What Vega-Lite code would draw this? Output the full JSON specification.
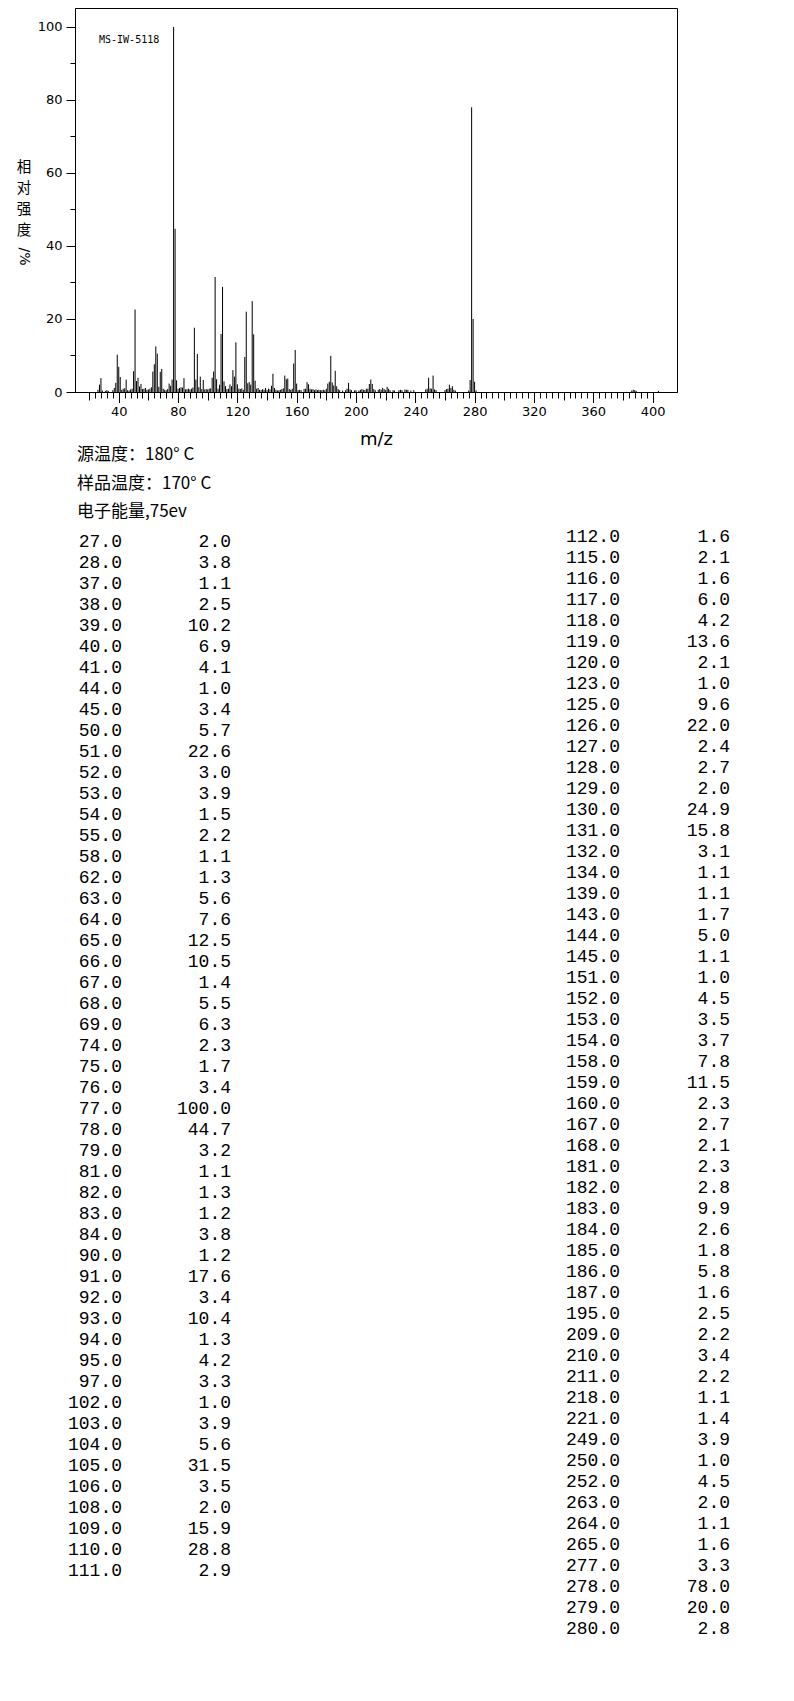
{
  "$schema": "https://vega.github.io/schema/vega-lite/v6.json",
  "padding": {"left": 15, "top": 7, "right": 5, "bottom": 5},
  "autosize": {"type": "pad"},
  "background": "white",
  "spacing": -3,
  "datasets": {
    "left": [
      {"mz": 27, "intensity": 2.0}, {"mz": 28, "intensity": 3.8}, {"mz": 37, "intensity": 1.1}, {"mz": 38, "intensity": 2.5},
      {"mz": 39, "intensity": 10.2}, {"mz": 40, "intensity": 6.9}, {"mz": 41, "intensity": 4.1}, {"mz": 44, "intensity": 1.0},
      {"mz": 45, "intensity": 3.4}, {"mz": 50, "intensity": 5.7}, {"mz": 51, "intensity": 22.6}, {"mz": 52, "intensity": 3.0},
      {"mz": 53, "intensity": 3.9}, {"mz": 54, "intensity": 1.5}, {"mz": 55, "intensity": 2.2}, {"mz": 58, "intensity": 1.1},
      {"mz": 62, "intensity": 1.3}, {"mz": 63, "intensity": 5.6}, {"mz": 64, "intensity": 7.6}, {"mz": 65, "intensity": 12.5},
      {"mz": 66, "intensity": 10.5}, {"mz": 67, "intensity": 1.4}, {"mz": 68, "intensity": 5.5}, {"mz": 69, "intensity": 6.3},
      {"mz": 74, "intensity": 2.3}, {"mz": 75, "intensity": 1.7}, {"mz": 76, "intensity": 3.4}, {"mz": 77, "intensity": 100.0},
      {"mz": 78, "intensity": 44.7}, {"mz": 79, "intensity": 3.2}, {"mz": 81, "intensity": 1.1}, {"mz": 82, "intensity": 1.3},
      {"mz": 83, "intensity": 1.2}, {"mz": 84, "intensity": 3.8}, {"mz": 90, "intensity": 1.2}, {"mz": 91, "intensity": 17.6},
      {"mz": 92, "intensity": 3.4}, {"mz": 93, "intensity": 10.4}, {"mz": 94, "intensity": 1.3}, {"mz": 95, "intensity": 4.2},
      {"mz": 97, "intensity": 3.3}, {"mz": 102, "intensity": 1.0}, {"mz": 103, "intensity": 3.9}, {"mz": 104, "intensity": 5.6},
      {"mz": 105, "intensity": 31.5}, {"mz": 106, "intensity": 3.5}, {"mz": 108, "intensity": 2.0}, {"mz": 109, "intensity": 15.9},
      {"mz": 110, "intensity": 28.8}, {"mz": 111, "intensity": 2.9}
    ],
    "right": [
      {"mz": 112, "intensity": 1.6}, {"mz": 115, "intensity": 2.1}, {"mz": 116, "intensity": 1.6}, {"mz": 117, "intensity": 6.0},
      {"mz": 118, "intensity": 4.2}, {"mz": 119, "intensity": 13.6}, {"mz": 120, "intensity": 2.1}, {"mz": 123, "intensity": 1.0},
      {"mz": 125, "intensity": 9.6}, {"mz": 126, "intensity": 22.0}, {"mz": 127, "intensity": 2.4}, {"mz": 128, "intensity": 2.7},
      {"mz": 129, "intensity": 2.0}, {"mz": 130, "intensity": 24.9}, {"mz": 131, "intensity": 15.8}, {"mz": 132, "intensity": 3.1},
      {"mz": 134, "intensity": 1.1}, {"mz": 139, "intensity": 1.1}, {"mz": 143, "intensity": 1.7}, {"mz": 144, "intensity": 5.0},
      {"mz": 145, "intensity": 1.1}, {"mz": 151, "intensity": 1.0}, {"mz": 152, "intensity": 4.5}, {"mz": 153, "intensity": 3.5},
      {"mz": 154, "intensity": 3.7}, {"mz": 158, "intensity": 7.8}, {"mz": 159, "intensity": 11.5}, {"mz": 160, "intensity": 2.3},
      {"mz": 167, "intensity": 2.7}, {"mz": 168, "intensity": 2.1}, {"mz": 181, "intensity": 2.3}, {"mz": 182, "intensity": 2.8},
      {"mz": 183, "intensity": 9.9}, {"mz": 184, "intensity": 2.6}, {"mz": 185, "intensity": 1.8}, {"mz": 186, "intensity": 5.8},
      {"mz": 187, "intensity": 1.6}, {"mz": 195, "intensity": 2.5}, {"mz": 209, "intensity": 2.2}, {"mz": 210, "intensity": 3.4},
      {"mz": 211, "intensity": 2.2}, {"mz": 218, "intensity": 1.1}, {"mz": 221, "intensity": 1.4}, {"mz": 249, "intensity": 3.9},
      {"mz": 250, "intensity": 1.0}, {"mz": 252, "intensity": 4.5}, {"mz": 263, "intensity": 2.0}, {"mz": 264, "intensity": 1.1},
      {"mz": 265, "intensity": 1.6}, {"mz": 277, "intensity": 3.3}, {"mz": 278, "intensity": 78.0}, {"mz": 279, "intensity": 20.0},
      {"mz": 280, "intensity": 2.8}
    ],
    "minor": [
      {"mz": 26, "intensity": 0.6}, {"mz": 29, "intensity": 0.4}, {"mz": 31, "intensity": 0.3}, {"mz": 32, "intensity": 0.5},
      {"mz": 33, "intensity": 0.3}, {"mz": 36, "intensity": 0.5}, {"mz": 42, "intensity": 0.6}, {"mz": 43, "intensity": 0.9},
      {"mz": 46, "intensity": 0.5}, {"mz": 47, "intensity": 0.4}, {"mz": 48, "intensity": 0.7}, {"mz": 49, "intensity": 0.9},
      {"mz": 56, "intensity": 0.8}, {"mz": 57, "intensity": 0.9}, {"mz": 59, "intensity": 0.6}, {"mz": 60, "intensity": 0.7},
      {"mz": 61, "intensity": 0.9}, {"mz": 70, "intensity": 0.9}, {"mz": 71, "intensity": 0.6}, {"mz": 72, "intensity": 0.5},
      {"mz": 73, "intensity": 0.8}, {"mz": 80, "intensity": 0.9}, {"mz": 85, "intensity": 0.7}, {"mz": 86, "intensity": 0.8},
      {"mz": 87, "intensity": 0.9}, {"mz": 88, "intensity": 0.7}, {"mz": 89, "intensity": 0.9}, {"mz": 96, "intensity": 0.8},
      {"mz": 98, "intensity": 0.7}, {"mz": 99, "intensity": 0.8}, {"mz": 100, "intensity": 0.7}, {"mz": 101, "intensity": 0.9},
      {"mz": 107, "intensity": 0.9}, {"mz": 113, "intensity": 0.8}, {"mz": 114, "intensity": 0.9}, {"mz": 121, "intensity": 0.9},
      {"mz": 122, "intensity": 0.8}, {"mz": 124, "intensity": 0.6}, {"mz": 133, "intensity": 0.9}, {"mz": 135, "intensity": 0.6},
      {"mz": 136, "intensity": 0.5}, {"mz": 137, "intensity": 0.8}, {"mz": 138, "intensity": 0.6}, {"mz": 140, "intensity": 0.5},
      {"mz": 141, "intensity": 0.9}, {"mz": 142, "intensity": 0.7}, {"mz": 146, "intensity": 0.6}, {"mz": 147, "intensity": 0.4},
      {"mz": 148, "intensity": 0.5}, {"mz": 149, "intensity": 0.6}, {"mz": 150, "intensity": 0.8}, {"mz": 155, "intensity": 0.8},
      {"mz": 156, "intensity": 0.6}, {"mz": 157, "intensity": 0.9}, {"mz": 161, "intensity": 0.5}, {"mz": 162, "intensity": 0.6},
      {"mz": 163, "intensity": 0.5}, {"mz": 165, "intensity": 0.8}, {"mz": 166, "intensity": 0.9}, {"mz": 169, "intensity": 0.9},
      {"mz": 170, "intensity": 0.7}, {"mz": 171, "intensity": 0.8}, {"mz": 172, "intensity": 0.5}, {"mz": 173, "intensity": 0.7},
      {"mz": 174, "intensity": 0.5}, {"mz": 175, "intensity": 0.6}, {"mz": 176, "intensity": 0.5}, {"mz": 177, "intensity": 0.5},
      {"mz": 178, "intensity": 0.6}, {"mz": 179, "intensity": 0.5}, {"mz": 180, "intensity": 0.9}, {"mz": 188, "intensity": 0.8},
      {"mz": 189, "intensity": 0.5}, {"mz": 191, "intensity": 0.4}, {"mz": 193, "intensity": 0.5}, {"mz": 194, "intensity": 0.9},
      {"mz": 196, "intensity": 0.7}, {"mz": 197, "intensity": 0.5}, {"mz": 199, "intensity": 0.4}, {"mz": 200, "intensity": 0.5},
      {"mz": 202, "intensity": 0.4}, {"mz": 203, "intensity": 0.6}, {"mz": 204, "intensity": 0.8}, {"mz": 205, "intensity": 0.6},
      {"mz": 206, "intensity": 0.5}, {"mz": 207, "intensity": 0.9}, {"mz": 208, "intensity": 0.9}, {"mz": 212, "intensity": 0.8},
      {"mz": 213, "intensity": 0.5}, {"mz": 215, "intensity": 0.6}, {"mz": 216, "intensity": 0.8}, {"mz": 217, "intensity": 0.6},
      {"mz": 219, "intensity": 0.8}, {"mz": 220, "intensity": 0.5}, {"mz": 222, "intensity": 0.9}, {"mz": 223, "intensity": 0.5},
      {"mz": 225, "intensity": 0.5}, {"mz": 226, "intensity": 0.4}, {"mz": 229, "intensity": 0.5}, {"mz": 230, "intensity": 0.6},
      {"mz": 231, "intensity": 0.5}, {"mz": 233, "intensity": 0.7}, {"mz": 234, "intensity": 0.6}, {"mz": 235, "intensity": 0.6},
      {"mz": 237, "intensity": 0.4}, {"mz": 239, "intensity": 0.5}, {"mz": 247, "intensity": 0.7}, {"mz": 248, "intensity": 0.9},
      {"mz": 251, "intensity": 0.9}, {"mz": 253, "intensity": 0.7}, {"mz": 254, "intensity": 0.5}, {"mz": 260, "intensity": 0.5},
      {"mz": 261, "intensity": 0.8}, {"mz": 262, "intensity": 0.9}, {"mz": 266, "intensity": 0.6}, {"mz": 267, "intensity": 0.4},
      {"mz": 276, "intensity": 0.4}, {"mz": 281, "intensity": 0.4}, {"mz": 386, "intensity": 0.4}, {"mz": 387, "intensity": 0.6},
      {"mz": 388, "intensity": 0.5}, {"mz": 389, "intensity": 0.3}, {"mz": 404, "intensity": 0.3}
    ],
    "label": [{"name": "MS-IW-5118"}]
  },
  "vconcat": [
    {
      "width": 602,
      "height": 384,
      "layer": [
        {
          "data": {"name": "left"},
          "mark": {"type": "rule", "color": "black", "strokeWidth": 1},
          "encoding": {
            "x": {"field": "mz", "type": "quantitative",
              "scale": {"domain": [10.5, 416.5], "nice": false, "zero": false},
              "axis": {"orient": "bottom", "values": [40, 80, 120, 160, 200, 240, 280, 320, 360, 400],
                "tickSize": 10.5, "labelPadding": 3, "labelFlush": false, "labelOverlap": false,
                "title": "m/z", "titleFont": "DejaVu Sans", "titleFontSize": 18, "titlePadding": 12}},
            "y": {"field": "intensity", "type": "quantitative",
              "scale": {"domain": [0, 105.2], "nice": false},
              "axis": {"orient": "left", "values": [0, 20, 40, 60, 80, 100], "tickSize": 9, "labelPadding": 4,
                "title": ["相", "对", "强", "度"], "titleAngle": 0, "titleX": -51.5, "titleY": 152,
                "titleAlign": "center", "titleBaseline": "top", "titleFont": "Noto Sans CJK SC",
                "titleFontSize": 14.5, "titleLineHeight": 21}},
            "y2": {"datum": 0}
          }
        },
        {
          "data": {"name": "right"},
          "mark": {"type": "rule", "color": "black", "strokeWidth": 1},
          "encoding": {
            "x": {"field": "mz", "type": "quantitative", "axis": null},
            "y": {"field": "intensity", "type": "quantitative", "axis": null},
            "y2": {"datum": 0}
          }
        },
        {
          "data": {"name": "minor"},
          "mark": {"type": "rule", "color": "black", "strokeWidth": 1},
          "encoding": {
            "x": {"field": "mz", "type": "quantitative",
              "axis": {"orient": "bottom", "values": [20,24,28,32,36,40,44,48,52,56,60,64,68,72,76,80,84,88,92,96,100,104,108,112,116,120,124,128,132,136,140,144,148,152,156,160,164,168,172,176,180,184,188,192,196,200,204,208,212,216,220,224,228,232,236,240,244,248,252,256,260,264,268,272,276,280,284,288,292,296,300,304,308,312,316,320,324,328,332,336,340,344,348,352,356,360,364,368,372,376,380,384,388,392,396,400],
                "tickSize": 6, "labels": false, "domain": false, "title": null}},
            "y": {"field": "intensity", "type": "quantitative",
              "axis": {"orient": "left", "values": [10, 30, 50, 70, 90], "tickSize": 5, "labels": false, "domain": false,
                "title": "/%", "titleAngle": 90, "titleX": -51.5, "titleY": 248, "titleAlign": "center",
                "titleBaseline": "middle", "titleFont": "DejaVu Sans", "titleFontSize": 14}},
            "y2": {"datum": 0}
          }
        },
        {
          "data": {"name": "label"},
          "mark": {"type": "text", "font": "DejaVu Sans Mono", "fontSize": 10, "align": "left", "baseline": "middle", "color": "black"},
          "encoding": {
            "x": {"datum": 26.7, "type": "quantitative",
              "axis": {"orient": "bottom", "values": [20, 60, 100, 140, 180, 220, 260, 300, 340, 380],
                "tickSize": 8, "labels": false, "domain": false, "title": null}},
            "y": {"datum": 96.5, "type": "quantitative", "axis": null},
            "text": {"field": "name", "type": "nominal"}
          }
        }
      ],
      "resolve": {"axis": {"x": "independent", "y": "independent"}}
    },
    {
      "title": {
        "text": ["源温度：180° C", "样品温度：170° C", "电子能量,75ev"],
        "anchor": "start", "frame": "group", "font": "Noto Sans CJK SC", "fontSize": 17,
        "fontWeight": "normal", "lineHeight": 28.5, "offset": -12, "dx": 2, "color": "black", "baseline": "bottom"
      },
      "spacing": 272,
      "hconcat": [
        {
          "data": {"name": "left"},
          "width": 203,
          "height": {"step": 21},
          "view": {"stroke": null},
          "transform": [{"fold": ["mz", "intensity"], "as": ["key", "val"]}],
          "mark": {"type": "text", "align": "right", "baseline": "middle", "font": "Liberation Mono", "fontSize": 18, "color": "black"},
          "encoding": {
            "x": {"field": "key", "type": "nominal", "scale": {"type": "point", "domain": ["mz", "intensity"], "padding": 0.431}, "axis": null},
            "y": {"field": "mz", "type": "ordinal", "scale": {"type": "point", "padding": 0.75}, "axis": null},
            "text": {"field": "val", "type": "quantitative", "format": ".1f"}
          }
        },
        {
          "data": {"name": "right"},
          "width": 250,
          "height": {"step": 21},
          "view": {"stroke": null},
          "transform": [{"fold": ["mz", "intensity"], "as": ["key", "val"]}],
          "mark": {"type": "text", "align": "right", "baseline": "middle", "font": "Liberation Mono", "fontSize": 18, "color": "black"},
          "encoding": {
            "x": {"field": "key", "type": "nominal", "scale": {"type": "point", "domain": ["mz", "intensity"], "padding": 0.636}, "axis": null},
            "y": {"field": "mz", "type": "ordinal", "scale": {"type": "point", "padding": 0.5}, "axis": null},
            "text": {"field": "val", "type": "quantitative", "format": ".1f"}
          }
        }
      ]
    }
  ],
  "config": {
    "view": {"stroke": "black", "strokeWidth": 1},
    "axis": {"grid": false, "domainColor": "black", "domainWidth": 1, "tickColor": "black", "tickWidth": 1,
      "labelColor": "black", "labelFont": "DejaVu Sans", "labelFontSize": 13, "titleColor": "black", "titleFontWeight": "normal"},
    "text": {"color": "black"}
  }
}
